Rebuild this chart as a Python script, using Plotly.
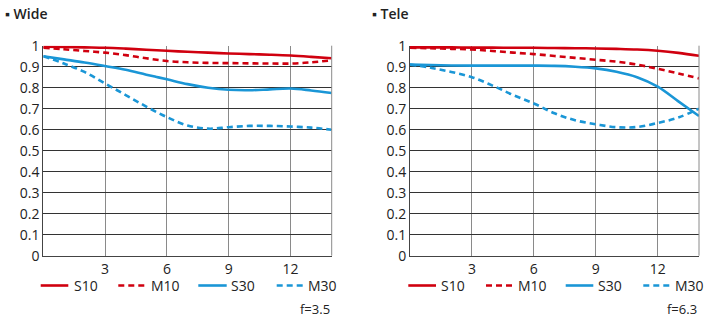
import plotly.graph_objects as go

x_pos = [0, 1, 2, 3, 4, 5, 6, 7, 8, 9, 10, 11, 12, 13, 14]

wide_s10 = [0.995, 0.994, 0.992, 0.99, 0.986, 0.981, 0.976, 0.971, 0.967, 0.963, 0.96, 0.957, 0.953, 0.947, 0.94]
wide_m10 = [0.99, 0.983, 0.975, 0.967, 0.955, 0.94, 0.927, 0.921, 0.918, 0.917, 0.916, 0.915, 0.915, 0.921, 0.93]
wide_s30 = [0.95, 0.935, 0.92, 0.903, 0.885, 0.862, 0.84, 0.817, 0.80, 0.79, 0.788, 0.792, 0.796, 0.787, 0.775]
wide_m30 = [0.95, 0.915, 0.875, 0.82, 0.765, 0.71, 0.66, 0.62, 0.605, 0.612, 0.618, 0.618, 0.615, 0.61, 0.60]

tele_s10 = [0.992, 0.992, 0.992, 0.991, 0.991, 0.99, 0.99, 0.989, 0.988, 0.987, 0.985, 0.982, 0.976, 0.966, 0.952]
tele_m10 = [0.99, 0.988, 0.985, 0.982, 0.975, 0.967, 0.96, 0.951, 0.942, 0.933, 0.924, 0.91, 0.89, 0.868, 0.844]
tele_s30 = [0.91, 0.908, 0.906, 0.905, 0.905, 0.905, 0.905, 0.904, 0.9, 0.892, 0.876, 0.85, 0.805, 0.735, 0.665]
tele_m30 = [0.91, 0.895, 0.875, 0.85, 0.81, 0.765, 0.725, 0.678, 0.645, 0.626, 0.612, 0.613, 0.632, 0.658, 0.70]

series_names = ["S10", "M10", "S30", "M30"]
x_ticks = [3, 6, 9, 12]
y_ticks = [0, 0.1, 0.2, 0.3, 0.4, 0.5, 0.6, 0.7, 0.8, 0.9, 1]
y_tick_text = ["0", "0.1", "0.2", "0.3", "0.4", "0.5", "0.6", "0.7", "0.8", "0.9", "1"]
panel_titles = ["▪ Wide", "▪ Tele"]
f_labels = ["f=3.5", "f=6.3"]

RED = "#d0000f"
BLUE = "#1a96d6"
FONT = "Open Sans"
styles = {"S10": (RED, "solid"), "M10": (RED, "6px,4px"),
          "S30": (BLUE, "solid"), "M30": (BLUE, "6px,4px")}

W, H = 720, 324
fig = go.Figure()

panels = [
    ("x", "y", [wide_s10, wide_m10, wide_s30, wide_m30]),
    ("x2", "y2", [tele_s10, tele_m10, tele_s30, tele_m30]),
]
for xa, ya, data in panels:
    for name, vals in zip(series_names, data):
        col, dash = styles[name]
        fig.add_trace(go.Scatter(x=x_pos, y=vals, mode="lines", name=name,
                                 line=dict(color=col, width=2.6, dash=dash, shape="spline", smoothing=1.0),
                                 xaxis=xa, yaxis=ya, showlegend=False, hoverinfo="skip"))

xdoms = [[43.3 / W, 331.7 / W], [410.0 / W, 699.0 / W]]
ydom = [(H - 255.7) / H, (H - 45.7) / H]

common_x = dict(range=[0, 14], tickvals=x_ticks, ticktext=[str(t) for t in x_ticks],
                showgrid=True, gridcolor="#8a8a8a", gridwidth=1, zeroline=False,
                showline=True, linecolor="#444", linewidth=1, mirror=False, ticks="",
                automargin=False,
                tickfont=dict(family=FONT, size=14, color="#222"), fixedrange=True)
common_y = dict(range=[0, 1], tickvals=y_ticks, ticktext=y_tick_text,
                showgrid=True, gridcolor="#333333", gridwidth=1, zeroline=False,
                showline=True, linecolor="#444", linewidth=1, ticks="",
                automargin=False,
                tickfont=dict(family=FONT, size=14, color="#222"), fixedrange=True)

fig.update_layout(
    width=W, height=H, margin=dict(l=0, r=0, t=0, b=0, pad=0), autosize=False,
    paper_bgcolor="white", plot_bgcolor="white",
    xaxis=dict(domain=xdoms[0], anchor="y", **common_x),
    yaxis=dict(domain=ydom, anchor="x", **common_y),
    xaxis2=dict(domain=xdoms[1], anchor="y2", **common_x),
    yaxis2=dict(domain=ydom, anchor="x2", **common_y),
    showlegend=False,
)

shapes = []
annotations = []
for xd in xdoms:
    shapes.append(dict(type="line", xref="paper", yref="paper", x0=xd[1], x1=xd[1],
                       y0=ydom[0], y1=ydom[1], line=dict(color="#8a8a8a", width=1)))

legend_layout = [
    [(40.7, 68.3, 71.7), (118.3, 146.7, 149.0), (198.3, 226.7, 229.3), (276.7, 304.0, 306.0)],
    [(408.3, 436.0, 439.3), (486.0, 514.0, 516.0), (565.7, 593.3, 596.0), (643.3, 671.7, 673.3)],
]
leg_y = 285.5
for p, items in enumerate(legend_layout):
    for name, (x0, x1, tx) in zip(series_names, items):
        col, dash = styles[name]
        shapes.append(dict(type="line", xref="paper", yref="paper",
                           x0=x0 / W, x1=x1 / W, y0=(H - leg_y) / H, y1=(H - leg_y) / H,
                           line=dict(color=col, width=2.6, dash=dash)))
        annotations.append(dict(text=name, xref="paper", yref="paper", x=tx / W, y=(H - leg_y) / H,
                                xanchor="left", yanchor="middle", showarrow=False,
                                font=dict(family=FONT, size=14, color="#222")))
    annotations.append(dict(text=f_labels[p], xref="paper", yref="paper", x=xdoms[p][1], y=(H - 309) / H,
                            xanchor="right", yanchor="middle", showarrow=False,
                            font=dict(family=FONT, size=13, color="#222")))

title_x = [3.0, 370.0]
for p, t in enumerate(panel_titles):
    annotations.append(dict(text=t, xref="paper", yref="paper", x=title_x[p] / W, y=(H - 14) / H,
                            xanchor="left", yanchor="middle", showarrow=False,
                            font=dict(family=FONT, size=14, color="#222", weight=600)))

fig.update_layout(shapes=shapes, annotations=annotations)
fig.write_html("out.html")
